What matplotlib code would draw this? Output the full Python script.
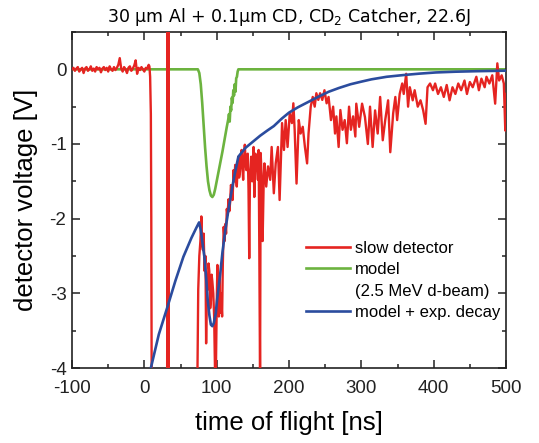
import numpy as np
import matplotlib
matplotlib.use("Agg")
import matplotlib.pyplot as plt
from matplotlib.lines import Line2D
from matplotlib.ticker import MultipleLocator

plt.rcParams['font.family'] = ['Liberation Sans', 'DejaVu Sans']
plt.rcParams['axes.unicode_minus'] = False
plt.rcParams['mathtext.fontset'] = 'dejavusans'


# slow detector trace
base_t = np.arange(-100, 8, 2)
base_v = [0.00, 0.02, -0.02, 0.01, 0.03, -0.03, 0.00, 0.02, -0.05, 0.01,
          0.03, -0.02, 0.00, 0.04, -0.02, 0.01, -0.03, 0.03, 0.00, 0.02,
          -0.04, 0.01, 0.03, -0.01, 0.02, -0.03, 0.04, 0.00, -0.02, 0.03,
          -0.01, 0.02, 0.06, 0.15, 0.01, -0.03, 0.03, 0.00, -0.05, 0.02,
          0.04, -0.02, 0.01, 0.05, 0.12, -0.06, 0.02, -0.01, 0.03, 0.00,
          -0.03, 0.02, 0.01, 0.06]

drop_t = [7, 8, 9, 9.6, 10.2, 20, 31.5, 32.0, 32.6, 33.2, 33.8, 73]
drop_v = [0.04, -0.1, -0.6, -2.0, -4.5, -4.5, -4.5, 0.6, -4.5, 0.6, -4.5, -4.5]

peak_t = [74.5, 76, 77.5, 78.8, 80, 81, 82, 83.2, 84.5, 85.4, 86.5, 87.6,
          88.7, 89.8, 91, 92, 93, 94, 95.3, 96.5, 97.8, 98.7, 99.6, 100.3,
          101, 102, 103, 104, 105, 106, 107.5, 108.5, 109.7, 111, 112, 113,
          114, 115, 116.4, 117.5, 118.6, 119.7, 120.8, 122, 123.3, 124.5,
          125.6, 126.7, 127.8, 129, 130, 131, 132, 133.3, 134.4, 135.5,
          136.6, 137.8, 138.9, 140, 141, 142, 143, 144, 145, 146, 147,
          147.7, 149, 150, 151, 152, 153.5, 154.6, 155.7, 157, 158, 159,
          160, 160.8, 162, 163.5, 165, 166]
peak_v = [-2.95, -2.5, -2.3, -1.97, -2.35, -2.42, -2.2, -2.7, -2.5, -3.67,
          -2.9, -2.95, -2.6, -2.7, -3.2, -3.1, -2.75, -2.84, -3.0, -3.31,
          -4.1, -4.2, -3.47, -3.0, -2.62, -2.9, -3.31, -2.8, -3.26, -3.0,
          -3.31, -2.6, -2.11, -2.3, -2.07, -2.2, -1.87, -1.95, -1.74, -1.9,
          -1.78, -1.55, -1.6, -1.75, -1.35, -1.5, -1.28, -1.45, -1.57, -1.3,
          -1.17, -1.45, -1.39, -1.2, -1.08, -1.3, -1.48, -1.2, -1.01, -1.25,
          -1.35, -1.15, -1.13, -1.6, -2.53, -1.44, -1.3, -1.17, -1.5, -1.35,
          -1.04, -1.71, -1.13, -1.17, -1.28, -1.48, -1.08, -2.5, -4.2, -1.12,
          -1.4, -2.3, -1.5, -1.26]

tail_t = [168.5, 171, 174, 176, 179, 181.6, 184.7, 187, 190.4, 193, 195.4,
          198, 201, 204, 206, 207.8, 210.4, 213.5, 216, 219, 222, 225, 227,
          230, 232.8, 235.5, 237.8, 240.5, 243, 246, 249, 252, 254.7, 258,
          261, 263.6, 265.5, 268.6, 271, 274, 277, 280, 283, 285.5, 288.6,
          291.7, 293, 297, 301, 305, 309, 312, 315.6, 319, 322.6, 326,
          329.6, 333, 337, 340, 344, 347, 349.5, 353, 356.5, 358.6, 362,
          364.6, 367, 371, 373.7, 378, 381.8, 385.5, 388.8, 391.5, 395, 399,
          402, 406, 410, 414, 418, 422, 426, 430, 434, 438, 442.6, 446, 450,
          454, 459, 462.5, 466, 470.5, 473, 477, 481, 485, 488, 490.5, 494,
          497, 499, 500]
tail_v = [-1.57, -1.3, -1.48, -1.04, -1.66, -1.26, -1.04, -1.75, -0.72,
          -1.08, -0.68, -1.04, -0.59, -0.72, -0.455, -0.81, -1.53, -0.68,
          -0.86, -0.77, -1.04, -1.26, -0.86, -0.5, -0.37, -0.5, -0.32, -0.41,
          -0.32, -0.41, -0.28, -0.455, -0.37, -0.68, -0.5, -0.86, -0.63,
          -1.04, -0.545, -0.81, -0.68, -0.99, -0.5, -0.81, -0.63, -0.9,
          -0.46, -0.77, -0.46, -0.64, -1.0, -0.5, -1.04, -0.55, -0.86, -0.37,
          -0.95, -0.68, -0.415, -1.11, -0.59, -0.37, -0.68, -0.33, -0.19,
          -0.33, -0.06, -0.5, -0.24, -0.415, -0.28, -0.5, -0.415, -0.55,
          -0.73, -0.24, -0.19, -0.28, -0.19, -0.33, -0.24, -0.37, -0.21,
          -0.415, -0.24, -0.33, -0.19, -0.28, -0.15, -0.33, -0.17, -0.24,
          -0.10, -0.28, -0.125, -0.24, -0.10, -0.19, -0.08, -0.46, 0.08,
          -0.15, -0.08, -0.19, -0.82, -0.33]

red_t = np.concatenate([base_t, drop_t, peak_t, tail_t])
red_v = np.concatenate([base_v, drop_v, peak_v, tail_v])

# model (2.5 MeV d-beam)
green_t = [-100, 74, 76, 78, 80, 82, 84, 86, 88, 90, 92, 94, 96, 98, 100,
           102, 104, 106, 108, 110, 112, 114, 116, 117, 118, 119, 120, 121,
           122, 123, 124, 125, 126, 127, 128, 129, 130, 500]
green_v = [0, 0, -0.05, -0.2, -0.45, -0.75, -1.05, -1.3, -1.5, -1.62, -1.69,
           -1.71, -1.68, -1.6, -1.5, -1.4, -1.3, -1.2, -1.1, -0.99, -0.88,
           -0.77, -0.67, -0.6, -0.7, -0.5, -0.55, -0.38, -0.45, -0.28, -0.35,
           -0.2, -0.3, -0.12, -0.1, -0.03, 0, 0]

# model + exp. decay
blue_t = [9, 20, 32, 43, 54, 65, 72, 75.7, 78, 80, 83, 85.5, 87.6, 90, 92,
          94, 96, 98.7, 101, 105, 108, 112, 116, 120.8, 125, 130, 134, 140,
          150, 160, 170, 179, 190, 200, 212, 224, 240, 255, 269, 285, 300,
          314, 335, 359, 380, 403, 430, 460, 500]
blue_v = [-4.0, -3.55, -3.18, -2.83, -2.51, -2.26, -2.12, -2.05, -2.15, -2.3,
          -2.51, -2.8, -3.09, -3.3, -3.42, -3.44, -3.4, -3.27, -3.05, -2.73,
          -2.45, -2.15, -1.9, -1.62, -1.4, -1.17, -1.12, -1.05, -0.97, -0.89,
          -0.82, -0.76, -0.66, -0.58, -0.51, -0.45, -0.37, -0.3, -0.25, -0.2,
          -0.165, -0.134, -0.1, -0.076, -0.058, -0.042, -0.032, -0.025,
          -0.018]

red = '#e52421'
green = '#6cb33f'
blue = '#2b4c9e'

fig = plt.figure(figsize=(5.39, 4.43), dpi=100)
ax = fig.add_axes([0.1336, 0.1693, 0.8052, 0.7585])

ax.plot(green_t, green_v, color=green, lw=1.9, zorder=2)
ax.plot(red_t, red_v, color=red, lw=1.7, zorder=3)
ax.plot(blue_t, blue_v, color=blue, lw=1.9, zorder=4)

ax.set_xlim(-100, 500)
ax.set_ylim(-4, 0.5)
ax.xaxis.set_major_locator(MultipleLocator(100))
ax.xaxis.set_minor_locator(MultipleLocator(50))
ax.yaxis.set_major_locator(MultipleLocator(1))
ax.yaxis.set_minor_locator(MultipleLocator(0.5))
ax.tick_params(which='both', direction='in', top=True, right=True,
               width=1.1, colors='#222222', labelsize=13.5)
ax.tick_params(axis='x', pad=8.5)
ax.tick_params(axis='y', pad=4)
ax.tick_params(which='major', length=5.5)
ax.tick_params(which='minor', length=3)
for s in ax.spines.values():
    s.set_linewidth(1.2)
    s.set_color('#222222')

ax.set_xlabel("time of flight [ns]", fontsize=18.5, labelpad=10)
ax.set_ylabel("detector voltage [V]", fontsize=18.5, labelpad=8)
ax.set_title("30 μm Al + 0.1μm CD, CD$_2$ Catcher, 22.6J",
             fontsize=12.5, family='DejaVu Sans', pad=7)

handles = [Line2D([], [], color=red, lw=1.9),
           Line2D([], [], color=green, lw=1.9),
           Line2D([], [], color='none'),
           Line2D([], [], color=blue, lw=1.9)]
labels = ["slow detector", "model", "(2.5 MeV d-beam)", "model + exp. decay"]
ax.legend(handles, labels, loc='upper left', bbox_to_anchor=(0.54, 0.378),
          frameon=False, fontsize=12, handlelength=2.6, handletextpad=0.3,
          labelspacing=0.38, borderpad=0, borderaxespad=0)

fig.savefig("out.png", dpi=100)
